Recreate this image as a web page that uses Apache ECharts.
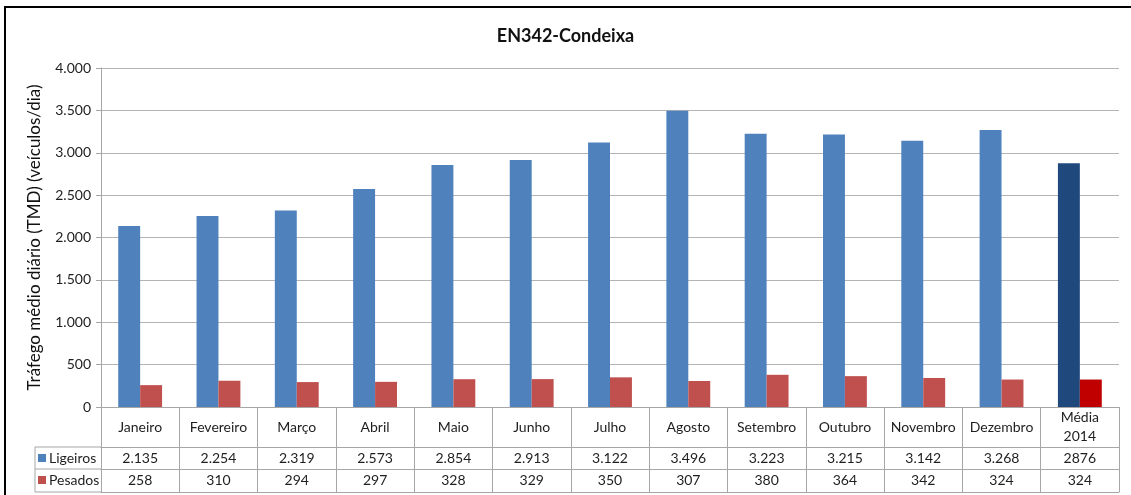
<!DOCTYPE html>
<html>
<head>
<meta charset="utf-8">
<script src="https://cdn.jsdelivr.net/npm/echarts@6/dist/echarts.min.js"></script>
<style>
  html, body { margin: 0; padding: 0; background: #fff; }
  #chart { width: 1131px; height: 495px; }
</style>
</head>
<body>
<div id="chart"></div>
<script>
// EN342-Condeixa, TMD por mês
const categories = ['Janeiro', 'Fevereiro', 'Março', 'Abril', 'Maio', 'Junho', 'Julho', 'Agosto', 'Setembro', 'Outubro', 'Novembro', 'Dezembro', 'Média\n2014'];
const ligeiros = [2135, 2254, 2319, 2573, 2854, 2913, 3122, 3496, 3223, 3215, 3142, 3268, 2876];
const pesados = [258, 310, 294, 297, 328, 329, 350, 307, 380, 364, 342, 324, 324];
const yTicks = { min: 0, max: 4000, interval: 500 };

const font = 'Lato, "Open Sans", sans-serif';
const gridGrey = '#b4b4b4';
const tableGrey = '#a6a6a6';
const textCol = '#1e1e1e';
const last = categories.length - 1;

// milhares com ponto (a média aparece sem separador no original)
const dots = v => String(v).replace(/\B(?=(\d{3})+(?!\d))/g, '.');
const cell = (arr, plain) => (val, i) => (plain && i === last) ? String(arr[i]) : dots(arr[i]);

const chart = echarts.init(document.getElementById('chart'));

function rowAxis(offset, formatter) {
    return {
        type: 'category', data: categories, position: 'bottom', offset: offset,
        axisLine: { show: true, lineStyle: { color: tableGrey } },
        axisTick: { show: false },
        axisLabel: formatter ? {
            formatter: formatter, margin: 11, verticalAlign: 'middle', interval: 0,
            color: textCol, fontSize: 14, fontFamily: font
        } : { show: false }
    };
}

chart.setOption({
    animation: false,
    textStyle: { fontFamily: font },
    title: {
        text: 'EN342-Condeixa', left: 'center', top: 22,
        textStyle: { fontSize: 18, fontWeight: 'bold', color: '#111', fontFamily: font }
    },
    legend: {
        orient: 'vertical', left: 38, top: 451, itemGap: 8, padding: 0,
        itemWidth: 8, itemHeight: 8, icon: 'rect',
        textStyle: { fontSize: 14, lineHeight: 14, color: textCol, fontFamily: font, padding: [0, 0, 0, -2] },
        data: ['Ligeiros', 'Pesados']
    },
    grid: { left: 101, right: 12, top: 68, bottom: 88 },
    xAxis: [
        {
            type: 'category', data: categories, position: 'bottom',
            axisLine: { show: true, lineStyle: { color: tableGrey } },
            axisTick: { show: true, length: 85, lineStyle: { color: tableGrey } },
            axisLabel: {
                margin: 20, verticalAlign: 'middle', lineHeight: 19,
                color: textCol, fontSize: 14, fontFamily: font, interval: 0
            }
        },
        rowAxis(40, cell(ligeiros, true)),
        rowAxis(62, cell(pesados, false)),
        rowAxis(85, null)
    ],
    yAxis: {
        type: 'value', min: yTicks.min, max: yTicks.max, interval: yTicks.interval,
        name: 'Tráfego médio diário (TMD) (veículos/dia)',
        nameLocation: 'middle', nameGap: 58,
        nameTextStyle: { fontSize: 17, color: '#111', fontFamily: font },
        axisLine: { show: true, lineStyle: { color: tableGrey } },
        axisTick: { show: true, length: 5, lineStyle: { color: tableGrey } },
        axisLabel: { formatter: v => dots(v), margin: 10, fontSize: 14, color: textCol, fontFamily: font },
        splitLine: { lineStyle: { color: gridGrey } }
    },
    series: [
        {
            name: 'Ligeiros', type: 'bar', barGap: '0%', barCategoryGap: '44%',
            itemStyle: { color: '#4f81bd' },
            data: ligeiros.map((v, i) => i === last ? { value: v, itemStyle: { color: '#1f497d' } } : v)
        },
        {
            name: 'Pesados', type: 'bar', barGap: '0%', barCategoryGap: '44%',
            itemStyle: { color: '#c0504d' },
            data: pesados.map((v, i) => i === last ? { value: v, itemStyle: { color: '#c00000' } } : v)
        }
    ],
    graphic: [
        // moldura exterior
        { type: 'rect', shape: { x: 5, y: 7, width: 1200, height: 600 }, style: { fill: 'none', stroke: '#000', lineWidth: 2 }, silent: true },
        // coluna da legenda da tabela
        { type: 'line', shape: { x1: 35, y1: 447, x2: 101, y2: 447 }, style: { stroke: tableGrey, lineWidth: 1 } },
        { type: 'line', shape: { x1: 35, y1: 469, x2: 101, y2: 469 }, style: { stroke: tableGrey, lineWidth: 1 } },
        { type: 'line', shape: { x1: 35, y1: 492, x2: 101, y2: 492 }, style: { stroke: tableGrey, lineWidth: 1 } },
        { type: 'line', shape: { x1: 35, y1: 447, x2: 35, y2: 492 }, style: { stroke: tableGrey, lineWidth: 1 } }
    ]
});
</script>
</body>
</html>
